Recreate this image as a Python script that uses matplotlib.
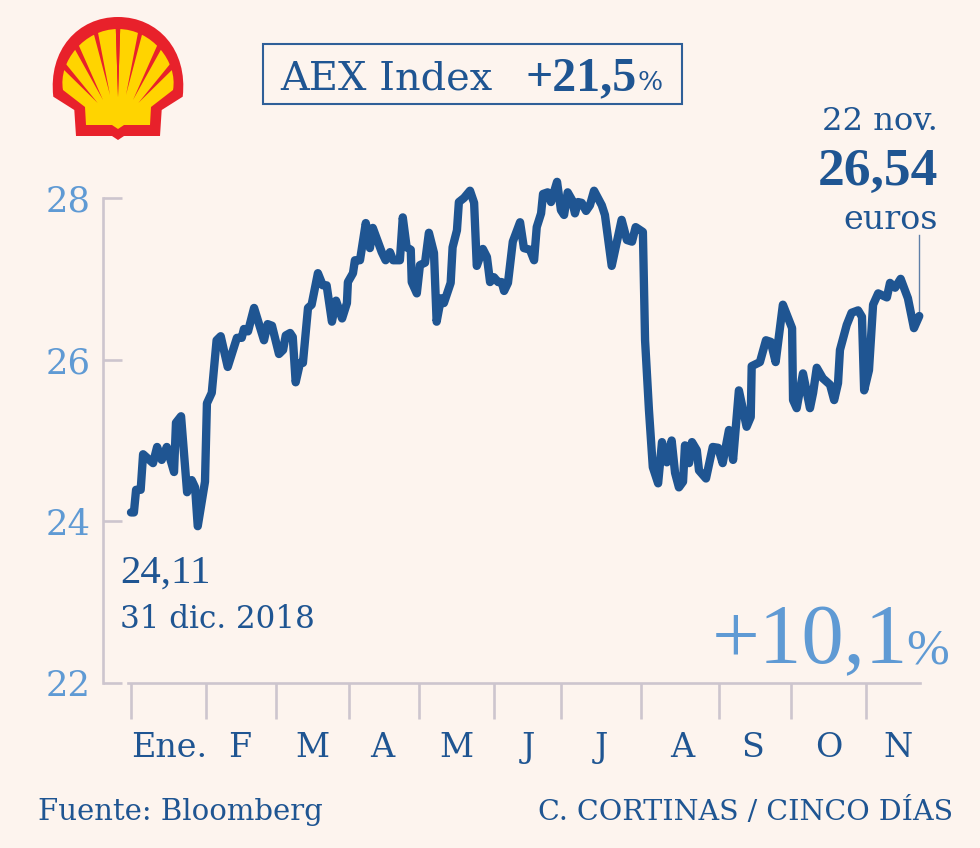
import matplotlib
matplotlib.use("Agg")
import matplotlib.pyplot as plt
from matplotlib.patches import PathPatch, Polygon, Rectangle
from matplotlib.path import Path

# ---- data ----
days = [0, 1.2, 2.1, 4.0, 5.0, 9.1, 10.8, 12.7, 14.8, 17.8, 18.6, 20.7, 23.2, 25.1, 26.5, 27.6, 30.6,
        31.4, 33.4, 35.4, 37.1, 40.0, 43.8, 45.8, 46.7, 48.4, 50.9, 55.0, 56.5, 58.3,
        61.2, 62.9, 64.0, 65.8, 66.9, 68.1, 69.9, 71.1, 73.2, 74.7, 77.3, 79.3, 80.9, 83.1, 84.8, 87.3, 89.3,
        89.7, 91.8, 92.6, 94.7, 97.1, 98.8, 100.0, 101.6, 103.7, 105.3, 107.1, 108.4, 111.2, 112.4, 114, 115.7, 116.1, 118.2,
        119.5, 121.6, 123.2, 125.3, 126.4, 128.2, 129.4, 132.2, 133, 134.8, 135.6, 137.7, 140.2, 141.9, 143, 145.5, 147.2, 148.5,
        150.1, 151.8, 153.3, 154.3, 155.9, 157.9, 160.9, 162.5, 165, 166.7, 167.8, 169.6, 170.4, 172.3, 173.7, 176.2, 177.8,
        179.1, 180.6, 182.3, 183.6, 184.9, 186.4, 188.2, 189.8, 191.5, 194.7, 196, 198.8, 201.4, 202.9, 205.1, 207.2, 208.7, 211.7,
        212.6, 214.2, 215.8, 218, 219.6, 221.6, 223.6, 225, 226.6, 228.3, 229.1, 230.8, 232, 234, 234.9, 237.8, 240.6,
        242.8, 244.7, 247.3, 249, 251.4, 254.6, 256.3, 256.7, 260.1, 262.6, 264.6, 266.6, 269.6,
        273.4, 273.8, 275.3, 277.9, 280.8, 282.1, 283.6, 286.1, 289.1, 290.8, 292.4, 293.2, 296, 298, 300.7, 302.3,
        303.2, 305.2, 306.9, 309, 312.6, 313.9, 316, 318.3, 321.3, 323.8, 326]
prices = [24.11, 24.11, 24.39, 24.39, 24.83, 24.72, 24.92, 24.76, 24.92, 24.61, 25.22, 25.30, 24.36, 24.51, 24.42, 23.94, 24.49,
          25.46, 25.59, 26.24, 26.29, 25.91, 26.27, 26.27, 26.38, 26.35, 26.64, 26.24, 26.44, 26.42,
          26.07, 26.12, 26.30, 26.33, 26.28, 25.72, 25.96, 25.96, 26.64, 26.68, 27.07, 26.92, 26.92, 26.47, 26.73, 26.51, 26.70,
          26.96, 27.07, 27.23, 27.23, 27.69, 27.38, 27.63, 27.50, 27.33, 27.23, 27.33, 27.23, 27.23, 27.76, 27.39, 27.36, 26.96, 26.82,
          27.17, 27.20, 27.57, 27.32, 26.47, 26.76, 26.70, 26.95, 27.39, 27.60, 27.95, 28.00, 28.09, 27.94, 27.16, 27.37, 27.27, 26.96,
          27.02, 26.96, 26.96, 26.85, 26.95, 27.46, 27.70, 27.38, 27.36, 27.23, 27.64, 27.81, 28.05, 28.07, 27.95, 28.20, 27.85,
          27.79, 28.07, 27.98, 27.81, 27.95, 27.94, 27.84, 27.91, 28.09, 27.91, 27.79, 27.16, 27.52, 27.73, 27.48, 27.46, 27.64, 27.58,
          26.24, 25.38, 24.67, 24.47, 24.98, 24.73, 25.00, 24.60, 24.42, 24.49, 24.94, 24.72, 24.98, 24.88, 24.63, 24.53, 24.92,
          24.91, 24.72, 25.13, 24.76, 25.62, 25.17, 25.29, 25.92, 25.97, 26.24, 26.22, 25.97, 26.68,
          26.39, 25.50, 25.40, 25.83, 25.40, 25.59, 25.90, 25.77, 25.69, 25.50, 25.71, 26.12, 26.43, 26.58, 26.61, 26.53,
          25.62, 25.87, 26.68, 26.82, 26.77, 26.95, 26.89, 27.00, 26.76, 26.39, 26.54]
month_starts = [0, 31, 60, 90, 119, 150, 178, 211, 243, 273, 304]
month_centers = [15.7, 45, 75, 104, 134.6, 164.4, 194.6, 227.8, 257, 288.5, 317.2]
month_labels = ["Ene.", "F", "M", "A", "M", "J", "J", "A", "S", "O", "N"]
y_ticks = [22, 24, 26, 28]
y_labels = ["22", "24", "26", "28"]
last_day = 326
last_price = 26.54
leader_top = 27.54

# ---- styles ----
BG = "#FDF4EE"
DARK = "#1F5592"
LIGHT = "#5F9AD4"
GREY = "#CDC5CE"
RED = "#E8212B"
YELLOW = "#FFD400"
SERIF = ["DejaVu Serif"]
NARROW = ["Liberation Serif"]

W, H = 980, 848
fig = plt.figure(figsize=(W / 100, H / 100), dpi=100, facecolor=BG)

# ---- chart axes: x 103..920 px, y 198..683 px ----
ax = fig.add_axes([103 / W, 1 - 683 / H, (920 - 103) / W, (683 - 198) / H], facecolor="none")
ax.set_xlim((103 - 131) / 2.418, (920 - 131) / 2.418)
ax.set_ylim(22, 28)
ax.plot(days, prices, color=DARK, lw=6, solid_joinstyle="round", solid_capstyle="round", clip_on=False, zorder=3)
ax.plot([last_day, last_day], [last_price, leader_top], color="#5F7FA8", lw=1.0, clip_on=False, zorder=2)

for s in ("top", "right"):
    ax.spines[s].set_visible(False)
for s in ("left", "bottom"):
    ax.spines[s].set_color(GREY)
    ax.spines[s].set_linewidth(1.9)
ax.spines["bottom"].set_bounds(-1.2, 326.3)

ax.set_yticks(y_ticks, y_labels, family=SERIF, fontsize=25.5, color=LIGHT)
ax.tick_params(axis="y", direction="in", length=14, width=1.9, color=GREY, pad=9)
ax.set_xticks(month_starts, [""] * len(month_starts))
ax.tick_params(axis="x", which="major", direction="out", length=26, width=1.9, color=GREY)
ax.set_xticks(month_centers, month_labels, minor=True, family=SERIF, fontsize=24, color=DARK)
ax.tick_params(axis="x", which="minor", length=0, pad=35)

# ---- page overlay in pixel units for text, box and logo ----
pg = fig.add_axes([0, 0, 1, 1], facecolor="none")
pg.set_xlim(0, W)
pg.set_ylim(H, 0)
pg.axis("off")

def txt(x, y, s, size, color=DARK, ha="left", weight="normal", family=SERIF):
    return pg.text(x, y, s, fontsize=size, color=color, ha=ha, va="baseline",
                   fontweight=weight, family=family)

pg.add_patch(Rectangle((263, 44), 419, 60, fill=False, ec="#2F5F98", lw=1.5))
txt(280, 90, "AEX Index", 28.7)
txt(525, 90, "+21,5", 34.5, weight="bold", family=NARROW)
txt(637, 90, "%", 19)

txt(938, 130, "22 nov.", 23.2, ha="right")
txt(938, 185, "26,54", 38.5, ha="right", weight="bold", family=NARROW)
txt(938, 229, "euros", 24, ha="right")

txt(120, 583, "24,11", 29.5, family=NARROW)
txt(120, 628, "31 dic. 2018", 22.3)

txt(712, 663, "+10,1", 61, color=LIGHT, family=NARROW)
txt(906, 663, "%", 37, color=LIGHT, family=NARROW)

txt(38, 820, "Fuente: Bloomberg", 21)
txt(953, 820, "C. CORTINAS / CINCO DÍAS", 20.5, ha="right")

# ---- shell logo ----
CX = 118

C4 = Path.CURVE4
outer_v = [(76, 136), (74.3, 110), (53.3, 96.7), (48, 50), (78, 17), (118, 17),
           (158, 17), (188, 50), (182.7, 96.7), (161.7, 110), (160, 136),
           (124, 136), (118, 140), (112, 136), (76, 136)]
outer_c = [Path.MOVETO, Path.LINETO, Path.LINETO, C4, C4, C4, C4, C4, C4, Path.LINETO, Path.LINETO,
           Path.LINETO, Path.LINETO, Path.LINETO, Path.CLOSEPOLY]
outer_path = PathPatch(Path(outer_v, outer_c), fc=RED, ec="none")
pg.add_patch(outer_path)

inner_v = [(86, 125), (85, 107), (63, 90), (58, 62), (84, 29), (118, 29),
           (152, 29), (178, 62), (173, 90), (151, 107), (150, 125),
           (124, 125), (118, 129), (112, 125), (86, 125)]
pg.add_patch(PathPatch(Path(inner_v, outer_c), fc=YELLOW, ec="none"))

# rays: apex, outer-left, outer-right
ray_sets = [[(118, 97), (115.7, 25), (120.3, 25)],
            [(110, 95), (92.5, 29), (97, 27.5)],
            [(103, 100), (73, 46), (77.5, 42.5)],
            [(97.7, 103), (60, 66), (63.5, 61)]]
for apex, a, b in ray_sets:
    for pts in ([apex, a, b], [(2 * CX - p[0], p[1]) for p in (apex, a, b)]):
        poly = Polygon(pts, fc=RED, ec="none")
        pg.add_patch(poly)
        poly.set_clip_path(outer_path)

fig.savefig("out.png", dpi=100, facecolor=BG)
